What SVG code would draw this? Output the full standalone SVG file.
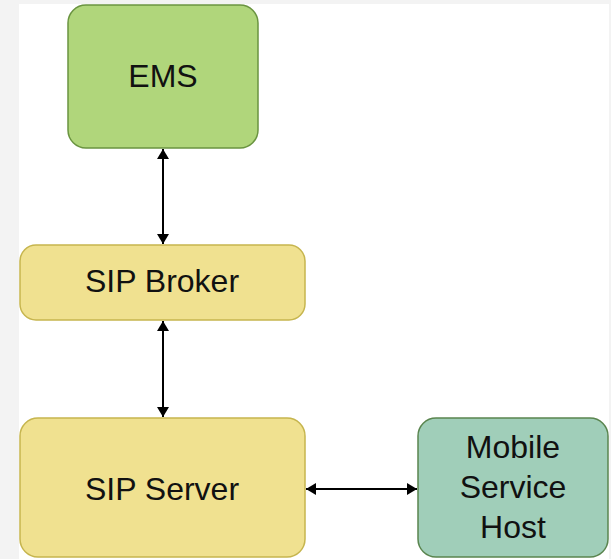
<svg xmlns="http://www.w3.org/2000/svg" width="611" height="559" viewBox="0 0 611 559">
<defs>
<style>
.lbl{font-family:"Liberation Sans",Arial,sans-serif;font-size:32px;fill:#111;text-anchor:middle}
.conn{stroke:#000;stroke-width:2;fill:none}
</style>
<marker id="ah" viewBox="0 0 10 12" refX="10" refY="6" markerWidth="10" markerHeight="12" markerUnits="userSpaceOnUse" orient="auto-start-reverse">
<path d="M0,0 L10,6 L0,12 Z" fill="#000"/>
</marker>
</defs>
<rect x="0" y="0" width="611" height="559" fill="#f3f3f3"/>
<rect x="19" y="4" width="590" height="555" fill="#ffffff"/>
<g id="connectors">
<line class="conn" x1="163" y1="149" x2="163" y2="244" marker-start="url(#ah)" marker-end="url(#ah)"/>
<line class="conn" x1="163" y1="321" x2="163" y2="417" marker-start="url(#ah)" marker-end="url(#ah)"/>
<line class="conn" x1="306" y1="489" x2="417" y2="489" marker-start="url(#ah)" marker-end="url(#ah)"/>
</g>
<g id="ems">
<rect x="68" y="5" width="190" height="143" rx="18" fill="#b0d67b" stroke="#6a9440" stroke-width="1.5"/>
<text class="lbl" x="163" y="87">EMS</text>
</g>
<g id="sip-broker">
<rect x="20" y="245" width="285" height="75" rx="16" fill="#f0e190" stroke="#c6b54e" stroke-width="1.5"/>
<text class="lbl" x="162" y="292">SIP Broker</text>
</g>
<g id="sip-server">
<rect x="20" y="418" width="285" height="139" rx="18" fill="#f0e190" stroke="#c6b54e" stroke-width="1.5"/>
<text class="lbl" x="162" y="500">SIP Server</text>
</g>
<g id="mobile-service-host">
<rect x="418" y="418" width="190" height="139" rx="18" fill="#a0ceb9" stroke="#5a854f" stroke-width="1.5"/>
<text class="lbl" x="513" y="458">Mobile</text>
<text class="lbl" x="513" y="498">Service</text>
<text class="lbl" x="513" y="538">Host</text>
</g>
</svg>
